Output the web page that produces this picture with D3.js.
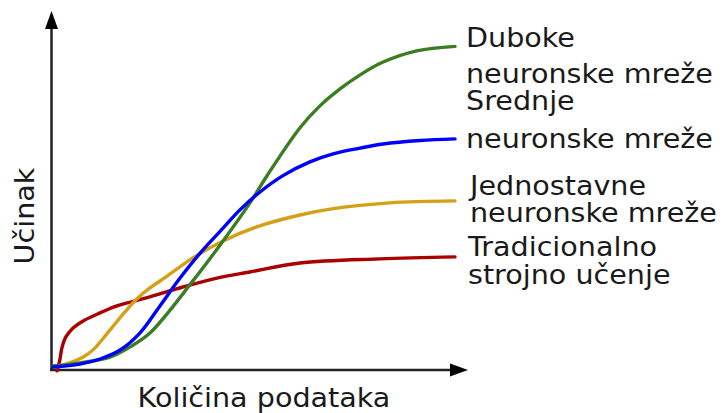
<!DOCTYPE html>
<html>
<head>
<meta charset="utf-8">
<script src="https://cdn.jsdelivr.net/npm/d3@7"></script>
<style>
html,body{margin:0;padding:0;background:#fff;}
svg{display:block;font-family:"DejaVu Sans",sans-serif;}
</style>
</head>
<body>
<svg id="chart" width="724" height="413"></svg>
<script>
// Data
const seriesNames = ["Duboke neuronske mreže","Srednje neuronske mreže","Jednostavne neuronske mreže","Tradicionalno strojno učenje"];
const labelLines = [["Duboke","neuronske mreže"],["Srednje","neuronske mreže"],["Jednostavne","neuronske mreže"],["Tradicionalno","strojno učenje"]];
const colors = ["#3b7d23","#0000ff","#d4a017","#aa0000"];
const deepX = [0,6.7,14.2,19.2,24.1,34.8,42.3,49.0,53.2,61.4,66.4,71.4,76.4,82.1,90.5,100];
const deepY = [0.3,1.3,3.1,6.3,10.6,26.9,39.4,51.3,59.7,74.7,81.6,86.9,91.3,95.3,98.8,100.2];
const midX = [0,6.7,11.7,16.7,21.6,26.6,31.6,36.6,42.3,46.5,51.5,57.2,63.9,69.7,76.4,82.1,91.3,100];
const midY = [0,0.9,2.5,5.3,10.6,19.1,27.8,35.6,43.4,49.1,54.7,59.8,64.1,66.6,68.4,69.7,70.8,71.3];
const simpleX = [0.5,1.7,7.5,10.4,14.2,17.9,20.9,24.1,28.4,34.8,42.3,50.7,61.4,69.7,83.8,100];
const simpleY = [0,0.3,3.1,5.9,11.6,17.2,21.3,24.7,28.4,34.1,39.4,43.8,47.5,49.5,51.3,51.9];
const tradX = [1.0,1.7,2.2,3.2,5.0,7.5,11.7,15.9,24.1,32.3,40.8,49,61.4,81.3,100];
const tradY = [-1.2,2.2,5.9,9.4,12.2,14.4,16.9,19.1,21.9,25,27.8,29.7,32.5,33.8,34.4];
const xLabel = "Količina podataka";
const yLabel = "Učinak";

const seriesX = [deepX, midX, simpleX, tradX];
const seriesY = [deepY, midY, simpleY, tradY];

const svg = d3.select("#chart");
const x = d3.scaleLinear().domain([0,100]).range([53,455]);
const y = d3.scaleLinear().domain([0,100]).range([367,47]);

const axisColor = "#222";
// axes
svg.append("line").attr("x1",51.5).attr("x2",51.5).attr("y1",371).attr("y2",26)
  .attr("stroke",axisColor).attr("stroke-width",2.5);
svg.append("path").attr("d","M51.5,11 L45,29 L58,29 Z").attr("fill","#000");
svg.append("line").attr("x1",50).attr("x2",452).attr("y1",370).attr("y2",370)
  .attr("stroke",axisColor).attr("stroke-width",2.5);
svg.append("path").attr("d","M468,370 L450,363.5 L450,376.5 Z").attr("fill","#000");

const line = d3.line().x(d=>x(d[0])).y(d=>y(d[1])).curve(d3.curveCatmullRom.alpha(0.5));

const order = [3,2,0,1];
order.forEach(i=>{
  const pts = seriesX[i].map((v,k)=>[v, seriesY[i][k]]);
  svg.append("path").datum(pts).attr("d",line)
    .attr("fill","none").attr("stroke",colors[i]).attr("stroke-width",3.4)
    .attr("stroke-linecap","round").attr("stroke-linejoin","round");
});

// labels (horizontally stretched like the reference font)
const labelPos = [[466,[47,83]],[466,[110,148]],[470,[195,222]],[468,[256,284]]];
const textFill = "#1a1a1a";
labelLines.forEach((lines,i)=>{
  lines.forEach((t,j)=>{
    svg.append("text")
      .attr("transform",`translate(${labelPos[i][0]},${labelPos[i][1][j]}) scale(1.1,1)`)
      .attr("font-size",26).attr("fill",textFill).text(t);
  });
});

svg.append("text").attr("transform","translate(264,407) scale(1.1,1)").attr("text-anchor","middle")
  .attr("font-size",26).attr("fill",textFill).text(xLabel);
svg.append("text").attr("transform","translate(34,216) rotate(-90) scale(1.1,1)").attr("text-anchor","middle")
  .attr("font-size",26).attr("fill",textFill).text(yLabel);
</script>
</body>
</html>
